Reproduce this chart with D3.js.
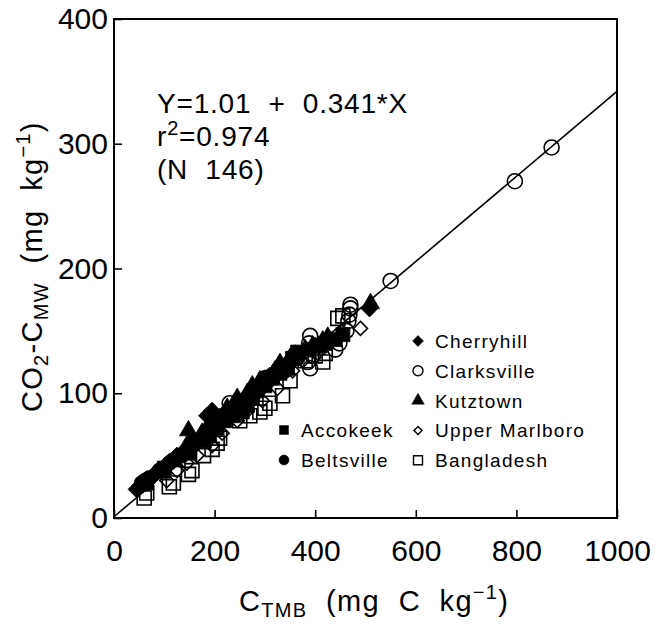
<!DOCTYPE html>
<html><head><meta charset="utf-8">
<script src="https://cdn.jsdelivr.net/npm/d3@7"></script>
<style>
body{margin:0;background:#fff;}
text{font-family:"Liberation Sans",Arial,sans-serif;fill:#000;}
</style></head>
<body><svg id="c" width="663" height="624"></svg>
<script>
// ---- data ----
const xTicks = [0,200,400,600,800,1000];
const yTicks = [0,100,200,300,400];
const fitIntercept = 1.01, fitSlope = 0.341;
const eqLines = ["Y=1.01  +  0.341*X", "r²=0.974", "(N  146)"];

const cherryhill = [[45,23],[52,26],[58,27],[62,30],[85,37],[95,38],[110,45],[125,50],[135,52],[160,58],[185,82],[195,86],[200,80],[215,78],[240,88],[270,100],[300,112],[330,122],[360,132],[400,138],[430,143],[508,168]];
const kutztown = [[60,28],[95,36],[120,45],[145,58],[148,70],[155,62],[175,68],[185,72],[200,78],[225,88],[240,92],[245,96],[265,100],[275,106],[290,110],[320,118],[330,124],[350,128],[380,135],[395,138],[415,142],[425,145],[510,172]];
const accokeek = [[65,28],[100,40],[150,52],[180,62],[190,66],[205,72],[220,78],[240,82],[255,85],[265,90],[275,96],[285,102],[300,106],[315,112],[330,116],[345,120],[355,128],[365,133],[410,138],[420,140],[440,143],[455,147]];
const beltsville = [[55,28],[62,30],[70,32],[90,38],[110,44],[135,50],[160,60],[185,70],[200,76],[215,82],[230,84],[250,86],[260,92],[275,98],[280,100],[290,104],[305,112],[315,115],[330,120],[340,118],[350,125],[365,128],[390,135]];
const clarksville = [[62,28],[230,92],[300,112],[320,115],[385,125],[390,120],[388,140],[390,146],[395,130],[440,135],[448,140],[462,150],[466,158],[468,163],[470,168],[470,171],[550,190],[797,270],[870,297]];
const upperMarlboro = [[105,30],[125,38],[145,44],[165,50],[195,58],[215,68],[245,78],[265,86],[295,94],[325,104],[355,118],[375,126],[405,132],[490,152]];
const bangladesh = [[60,16],[65,20],[110,25],[118,28],[148,35],[155,38],[178,50],[195,55],[205,60],[210,64],[250,78],[270,82],[290,85],[300,88],[310,92],[335,98],[350,110],[380,126],[400,130],[415,125],[420,132],[445,160],[455,162]];

const series = [
  {name:"Clarksville", data:clarksville, sym:"circle", filled:false},
  {name:"Upper Marlboro", data:upperMarlboro, sym:"diamond", filled:false},
  {name:"Bangladesh", data:bangladesh, sym:"square", filled:false},
  {name:"Accokeek", data:accokeek, sym:"square", filled:true},
  {name:"Beltsville", data:beltsville, sym:"circle", filled:true},
  {name:"Cherryhill", data:cherryhill, sym:"diamond", filled:true},
  {name:"Kutztown", data:kutztown, sym:"triangle", filled:true}
];
const legendRight = ["Cherryhill","Clarksville","Kutztown","Upper Marlboro","Bangladesh"];
const legendLeft = ["Accokeek","Beltsville"];

// ---- chart ----
const svg = d3.select("#c");
const L=114, R=617, T=19, B=518;
const x = d3.scaleLinear().domain([0,1000]).range([L,R]);
const y = d3.scaleLinear().domain([0,400]).range([B,T]);

function symPath(sym, s){ // s = nominal size in px
  if(sym==="square") return d3.symbol(d3.symbolSquare, s*s)();
  if(sym==="circle") return d3.symbol(d3.symbolCircle, Math.PI*s*s/4)();
  if(sym==="triangle") return d3.symbol(d3.symbolTriangle, Math.sqrt(3)/4*s*s*1.1)();
  if(sym==="diamond") return d3.symbol(d3.symbolSquare, s*s/2)();
}
function symRot(sym){ return sym==="diamond" ? 45 : 0; }
const plotSize = {square:14, circle:15, triangle:17, diamond:17};

// regression line
svg.append("path")
  .datum([0,1000])
  .attr("d", d3.line().x(d=>x(d)).y(d=>y(fitIntercept+fitSlope*d)))
  .attr("stroke","#000").attr("stroke-width",1.6).attr("fill","none");

// points
series.forEach(s=>{
  const sz = (s.name==="Upper Marlboro") ? 14 : plotSize[s.sym];
  svg.append("g").selectAll("path").data(s.data).join("path")
    .attr("d", symPath(s.sym, sz))
    .attr("transform", d=>`translate(${x(d[0])},${y(d[1])}) rotate(${symRot(s.sym)})`)
    .attr("fill", s.filled ? "#000" : "none")
    .attr("stroke","#000").attr("stroke-width", s.filled?0.8:1.6);
});

// frame
svg.append("rect").attr("x",L).attr("y",T).attr("width",R-L).attr("height",B-T)
  .attr("fill","none").attr("stroke","#000").attr("stroke-width",2);

// axes
const xAxis = d3.axisBottom(x).tickValues(xTicks).tickSizeInner(-8).tickSizeOuter(0).tickPadding(22).tickFormat(d3.format("d"));
const gx = svg.append("g").attr("transform",`translate(0,${B})`).call(xAxis);
gx.select(".domain").remove();
gx.selectAll("line").attr("stroke-width",1.6);
gx.selectAll("text").attr("font-size",30).attr("font-family","Liberation Sans");

const yAxis = d3.axisLeft(y).tickValues(yTicks).tickSizeInner(-8).tickSizeOuter(0).tickPadding(6).tickFormat(d3.format("d"));
const gy = svg.append("g").attr("transform",`translate(${L},0)`).call(yAxis);
gy.select(".domain").remove();
gy.selectAll("line").attr("stroke-width",1.6);
gy.selectAll("text").attr("font-size",30).attr("font-family","Liberation Sans");

// equation
const eq = svg.append("g").attr("font-size",28);
const eqY=[113,146,179];
eq.append("text").attr("x",157).attr("y",eqY[0]).style("white-space","pre")
  .attr("letter-spacing",0.8).text(eqLines[0]);
const t2 = eq.append("text").attr("x",157).attr("y",eqY[1]).attr("letter-spacing",0.8);
t2.append("tspan").text("r");
t2.append("tspan").attr("font-size",20).attr("dy",-11).text("2");
t2.append("tspan").attr("dy",11).text("=0.974");
eq.append("text").attr("x",157).attr("y",eqY[2]).style("white-space","pre").attr("letter-spacing",0.8).text(eqLines[2]);

// legend
function legendItem(name, mx, ty){
  const s = series.find(d=>d.name===name);
  const sz = {square:9, circle:10, triangle:12, diamond:11}[s.sym] - (name==="Upper Marlboro"?3:0);
  svg.append("path").attr("d", symPath(s.sym, sz))
    .attr("transform",`translate(${mx},${ty}) rotate(${symRot(s.sym)})`)
    .attr("fill", s.filled?"#000":"#fff").attr("stroke","#000").attr("stroke-width", s.filled?0.5:1.4);
  svg.append("text").attr("x",mx+17).attr("y",ty+7).attr("font-size",19).attr("letter-spacing",1.3).text(name);
}
legendRight.forEach((n,i)=>legendItem(n, 418, 341+i*29.8));
legendLeft.forEach((n,i)=>legendItem(n, 284, 430+i*30));

// x title
const xt = svg.append("text").attr("x",239).attr("y",611).attr("font-size",29).attr("letter-spacing",1.3);
xt.append("tspan").text("C");
xt.append("tspan").attr("font-size",20).attr("dy",6).text("TMB");
xt.append("tspan").attr("dy",-6).style("white-space","pre").text("  (mg  C  kg");
xt.append("tspan").attr("font-size",20).attr("dy",-12).text("−1");
xt.append("tspan").attr("dy",12).text(")");

// y title
const yt = svg.append("text").attr("transform","translate(42,412) rotate(-90)").attr("font-size",29).attr("letter-spacing",1.3);
yt.append("tspan").text("CO");
yt.append("tspan").attr("font-size",20).attr("dy",6).text("2");
yt.append("tspan").attr("dy",-6).text("-C");
yt.append("tspan").attr("font-size",20).attr("dy",6).text("MW");
yt.append("tspan").attr("dy",-6).style("white-space","pre").text("  (mg  kg");
yt.append("tspan").attr("font-size",20).attr("dy",-12).text("−1");
yt.append("tspan").attr("dy",12).text(")");
</script></body></html>
